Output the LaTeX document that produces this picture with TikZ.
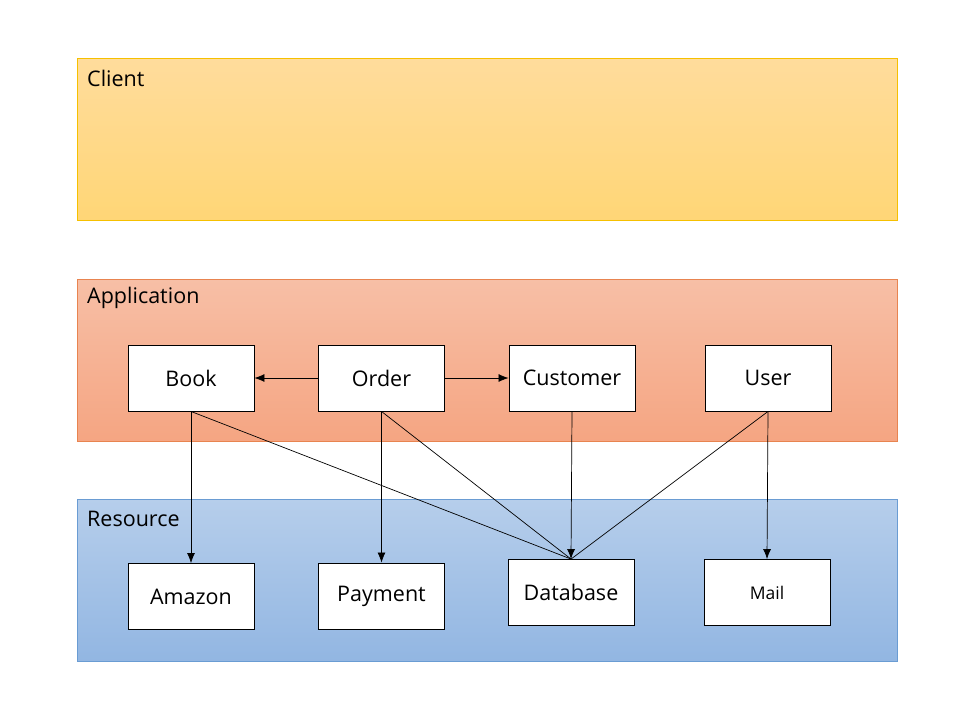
\documentclass[tikz,border=0pt]{standalone}
\usepackage{fontspec}
\setmainfont{Open Sans}
\usetikzlibrary{arrows.meta}
\definecolor{clientTop}{RGB}{255,220,156}
\definecolor{clientBottom}{RGB}{255,214,118}
\definecolor{clientLine}{RGB}{246,192,0}
\definecolor{appTop}{RGB}{247,191,166}
\definecolor{appBottom}{RGB}{245,165,130}
\definecolor{appLine}{RGB}{232,132,80}
\definecolor{resTop}{RGB}{182,206,235}
\definecolor{resBottom}{RGB}{146,182,226}
\definecolor{resLine}{RGB}{106,156,211}
\tikzset{
  layer/.style={draw, line width=0.8pt, minimum width=820pt, minimum height=162pt, anchor=north west, inner sep=0pt},
  layertext/.style={anchor=west, inner sep=0pt, font=\fontsize{21.5}{25}\selectfont},
  comp/.style={draw=black, fill=white, line width=0.9pt, minimum width=126pt, minimum height=66pt, inner sep=0pt, font=\fontsize{21.5}{25}\selectfont},
  link/.style={line width=0.7pt}
}
\begin{document}
\begin{tikzpicture}[x=1pt, y=-1pt, >={Latex[length=10pt, width=8pt]}]
\useasboundingbox (0,0) rectangle (960,720);
% layers
\node[layer, draw=clientLine, top color=clientTop, bottom color=clientBottom] (client) at (77,58) {};
\node[layer, draw=appLine, top color=appTop, bottom color=appBottom] (app) at (77,279) {};
\node[layer, draw=resLine, top color=resTop, bottom color=resBottom] (res) at (77,499) {};
\node[layertext] (clientlbl) at ([xshift=10pt, yshift=-20pt]client.north west) {Client};
\node[layertext] (applbl) at ([xshift=10pt, yshift=-19pt]app.north west) {Application};
\node[layertext] (reslbl) at ([xshift=10pt, yshift=-20pt]res.north west) {Resource};
% application components
\node[comp] (book) at (191,378) {Book};
\node[comp] (order) at (381.5,378) {Order};
\node[comp] (customer) at (572,378) {Customer};
\node[comp] (user) at (768,378) {User};
% resources
\node[comp] (amazon) at (191,596.5) {Amazon};
\node[comp] (payment) at (381.5,596) {Payment};
\node[comp] (database) at (571,592.5) {Database};
\node[comp, font=\fontsize{17.5}{21}\selectfont] (mail) at (767,592.5) {Mail};
% links
\draw[link, ->] (order) -- (book);
\draw[link, ->] (order) -- (customer);
\draw[link, ->] (book.south) -- (amazon.north);
\draw[link, ->] (order.south) -- (payment.north);
\draw[link, ->] (customer.south) -- (database.north);
\draw[link, ->] (user.south) -- (mail.north);
\draw[link] (book.south) -- (database.north);
\draw[link] (order.south) -- (database.north);
\draw[link] (user.south) -- (database.north);
\end{tikzpicture}
\end{document}
